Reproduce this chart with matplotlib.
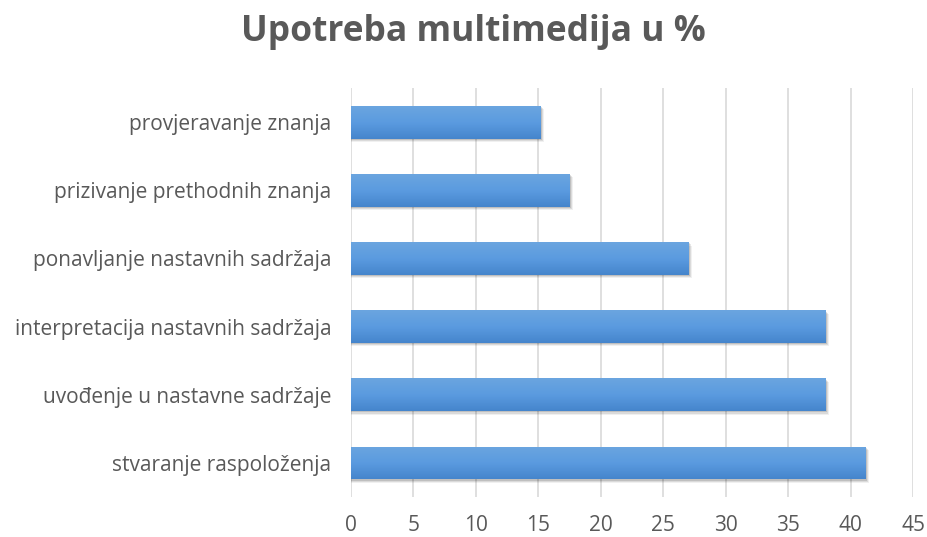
import matplotlib
matplotlib.use("Agg")
import matplotlib.pyplot as plt
import numpy as np
from matplotlib.patches import Rectangle
from matplotlib.colors import LinearSegmentedColormap

categories = [
    "stvaranje raspoloženja",
    "uvođenje u nastavne sadržaje",
    "interpretacija nastavnih sadržaja",
    "ponavljanje nastavnih sadržaja",
    "prizivanje prethodnih znanja",
    "provjeravanje znanja",
]
values = [41.2, 38.0, 38.0, 27.0, 17.5, 15.2]
xticks = [0, 5, 10, 15, 20, 25, 30, 35, 40, 45]
title = "Upotreba multimedija u %"

plt.rcParams['font.family'] = ['Open Sans', 'DejaVu Sans']
grey = "#595959"

fig = plt.figure(figsize=(9.27, 5.37), dpi=100)
ax = fig.add_axes([0.3786, 0.0745, 0.985 - 0.3786, 0.836 - 0.0745])

y = np.arange(len(categories))
h = 0.48
# soft shadow
for yi, v in zip(y, values):
    for k, a in enumerate([0.12, 0.09, 0.06]):
        ax.add_patch(Rectangle((0, yi - h/2 - 0.02 - 0.015*k), v + 0.12 + 0.08*k, h,
                               facecolor="#000000", alpha=a, edgecolor="none", zorder=2))
bars = ax.barh(y, values, height=h, color="#5596d8", edgecolor="none", zorder=3)
grad = np.linspace(0, 1, 100).reshape(-1, 1)
cmap = LinearSegmentedColormap.from_list("g", ["#4585cc", "#5b9be0", "#6ba5df"])
for b in bars:
    x0, y0, w, hh = b.get_x(), b.get_y(), b.get_width(), b.get_height()
    im = ax.imshow(grad, cmap=cmap, aspect="auto", extent=[x0, x0 + w, y0, y0 + hh],
                   origin="lower", zorder=4)
    im.set_clip_path(b)

ax.set_xlim(0, 45)
ax.set_ylim(-0.5, len(categories) - 0.5)
ax.set_xticks(xticks)
ax.set_xticklabels([str(t) for t in xticks])
ax.set_yticks(y)
ax.set_yticklabels(categories)
ax.grid(axis="x", color="#d9d9d9", linewidth=1.2, zorder=0)
ax.set_axisbelow(True)
for s in ax.spines.values():
    s.set_visible(False)
ax.tick_params(axis="both", length=0, colors=grey, labelsize=15)
ax.tick_params(axis="y", pad=14)
ax.tick_params(axis="x", pad=13)

fig.text(0.511, 0.94, title, ha="center", va="center", fontsize=25.5, fontweight="bold", color=grey)

fig.savefig("out.png", dpi=100)
